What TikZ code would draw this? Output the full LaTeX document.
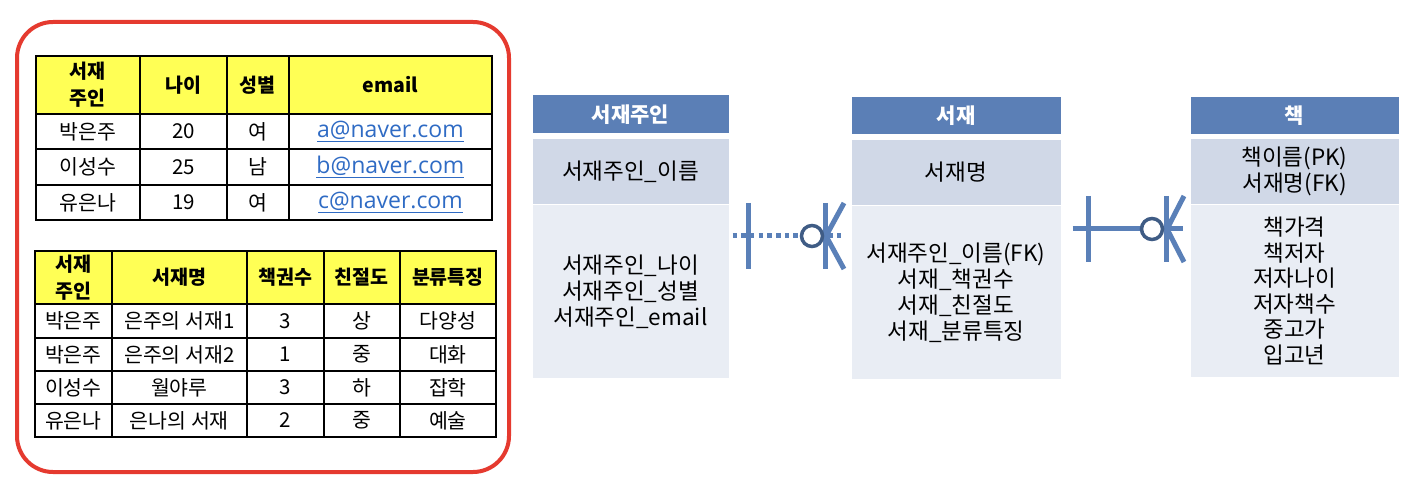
\documentclass[tikz,border=0pt]{standalone}
\usepackage{fontspec}
\setmainfont{Noto Sans CJK KR}
\newfontfamily\latinf{Open Sans}
\usetikzlibrary{calc}
\definecolor{hdr}{HTML}{5B7FB6}
\definecolor{keyc}{HTML}{D0D8E7}
\definecolor{attrc}{HTML}{E9EDF4}
\definecolor{lnc}{HTML}{5A80B8}
\definecolor{circc}{HTML}{3F5C85}
\definecolor{redc}{HTML}{E53A2F}
\definecolor{yel}{HTML}{FFFF55}
\definecolor{linkc}{HTML}{2F6BC4}
\newcommand\tcl[6]{\node[tcell, minimum width=#4pt, minimum height=#5pt] (#1) at (#2,#3) {#6};}
\newcommand\thc[6]{\node[tcell, thead, minimum width=#4pt, minimum height=#5pt] (#1) at (#2,#3) {#6};}
\newcommand\mail[1]{{\latinf\fontsize{23}{26}\selectfont\color{linkc}\underline{#1}}}
\begin{document}
\begin{tikzpicture}[x=1pt,y=-1pt,
  tcell/.style={draw=black, line width=1.8pt, anchor=north west, inner sep=0pt, align=center,
    font=\fontsize{20.5}{27}\selectfont},
  thead/.style={fill=yel, font=\fontsize{19.5}{27}\selectfont\bfseries},
  ent/.style={anchor=north west, inner sep=0pt, align=center, draw=white, line width=1pt,
    font=\fontsize{22.5}{26}\selectfont},
  enthead/.style={ent, fill=hdr, text=white, font=\fontsize{21}{26}\selectfont\bfseries},
  entkey/.style={ent, fill=keyc},
  entattr/.style={ent, fill=attrc},
  bar/.style={lnc, line width=5pt},
  optc/.style={circc, line width=3.5pt, fill=white},
  dotline/.style={lnc, line width=5pt, dash pattern=on 4.5pt off 4.2pt},
  solidline/.style={lnc, line width=5pt}]
\useasboundingbox (0,0) rectangle (1410,486);
% red frame
\node[draw=redc, line width=4pt, rounded corners=36pt, anchor=north west, inner sep=0pt,
  minimum width=492pt, minimum height=450pt] (frame) at (15,20) {};
% table 1
\thc{ha}{35}{55}{104}{58}{서재\\주인}
\thc{hb}{139}{55}{87}{58}{나이}
\thc{hc}{226}{55}{62}{58}{성별}
\thc{hd}{288}{55}{203}{58}{email}
\tcl{a1}{35}{113}{104}{35}{박은주}
\tcl{b1}{139}{113}{87}{35}{20}
\tcl{c1}{226}{113}{62}{35}{여}
\tcl{d1}{288}{113}{203}{35}{\mail{a@naver.com}}
\tcl{a2}{35}{148}{104}{36}{이성수}
\tcl{b2}{139}{148}{87}{36}{25}
\tcl{c2}{226}{148}{62}{36}{남}
\tcl{d2}{288}{148}{203}{36}{\mail{b@naver.com}}
\tcl{a3}{35}{184}{104}{35}{유은나}
\tcl{b3}{139}{184}{87}{35}{19}
\tcl{c3}{226}{184}{62}{35}{여}
\tcl{d3}{288}{184}{203}{35}{\mail{c@naver.com}}
% table 2
\thc{ka}{34}{250}{77}{53}{서재\\주인}
\thc{kb}{111}{250}{135}{53}{서재명}
\thc{kc}{246}{250}{77}{53}{책권수}
\thc{kd}{323}{250}{76}{53}{친절도}
\thc{ke}{399}{250}{96}{53}{분류특징}
\tcl{pa1}{34}{303}{77}{34}{박은주}
\tcl{pb1}{111}{303}{135}{34}{은주의 서재1}
\tcl{pc1}{246}{303}{77}{34}{3}
\tcl{pd1}{323}{303}{76}{34}{상}
\tcl{pe1}{399}{303}{96}{34}{다양성}
\tcl{pa2}{34}{337}{77}{33}{박은주}
\tcl{pb2}{111}{337}{135}{33}{은주의 서재2}
\tcl{pc2}{246}{337}{77}{33}{1}
\tcl{pd2}{323}{337}{76}{33}{중}
\tcl{pe2}{399}{337}{96}{33}{대화}
\tcl{pa3}{34}{370}{77}{33}{이성수}
\tcl{pb3}{111}{370}{135}{33}{월야루}
\tcl{pc3}{246}{370}{77}{33}{3}
\tcl{pd3}{323}{370}{76}{33}{하}
\tcl{pe3}{399}{370}{96}{33}{잡학}
\tcl{pa4}{34}{403}{77}{33}{유은나}
\tcl{pb4}{111}{403}{135}{33}{은나의 서재}
\tcl{pc4}{246}{403}{77}{33}{2}
\tcl{pd4}{323}{403}{76}{33}{중}
\tcl{pe4}{399}{403}{96}{33}{예술}
% ER entities
\node[enthead, minimum width=197pt, minimum height=39pt] (ownH) at (531.5,94.5) {서재주인};
\node[entkey, minimum width=197pt, minimum height=66pt] (ownK) at (531.5,138) {서재주인\_이름};
\node[entattr, minimum width=197pt, minimum height=174pt] (ownA) at (531.5,204) {서재주인\_나이\\서재주인\_성별\\서재주인\_email};
\node[enthead, minimum width=210pt, minimum height=38pt] (shH) at (850.5,96.5) {서재};
\node[entkey, minimum width=210pt, minimum height=66pt] (shK) at (850.5,139) {서재명};
\node[entattr, minimum width=210pt, minimum height=174pt] (shA) at (850.5,205) {서재주인\_이름(FK)\\서재\_책권수\\서재\_친절도\\서재\_분류특징};
\node[enthead, minimum width=209pt, minimum height=38pt] (bkH) at (1189.5,96.5) {책};
\node[entkey, minimum width=209pt, minimum height=66pt] (bkK) at (1189.5,138) {책이름(PK)\\서재명(FK)};
\node[entattr, minimum width=209pt, minimum height=173pt, font=\fontsize{22.5}{25.6}\selectfont] (bkA) at (1189.5,204) {책가격\\책저자\\저자나이\\저자책수\\중고가\\입고년};
% connector 1 (dotted, owner -> shelf)
\coordinate (r1) at (0,236);
\draw[dotline] ($(ownA.east |- r1)+(3,0)$) -- ($(shA.west |- r1)+(-6,0)$);
\draw[bar] (748,203) -- (748,269);
\draw[bar] (825,203) -- (825,269);
\draw[bar] (826,236) -- (844,203);
\draw[bar] (826,236) -- (844,269);
\draw[optc] (812,236) circle (10.5);
% connector 2 (solid, shelf -> book)
\coordinate (r2) at (0,229);
\draw[solidline] ($(shA.east |- r2)+(11,0)$) -- ($(bkA.west |- r2)+(-7,0)$);
\draw[bar] (1088,196) -- (1088,262);
\draw[bar] (1166,196) -- (1166,262);
\draw[bar] (1167,229) -- (1184,196);
\draw[bar] (1167,229) -- (1184,262);
\draw[optc] (1152,229) circle (10.5);
\end{tikzpicture}
\end{document}
